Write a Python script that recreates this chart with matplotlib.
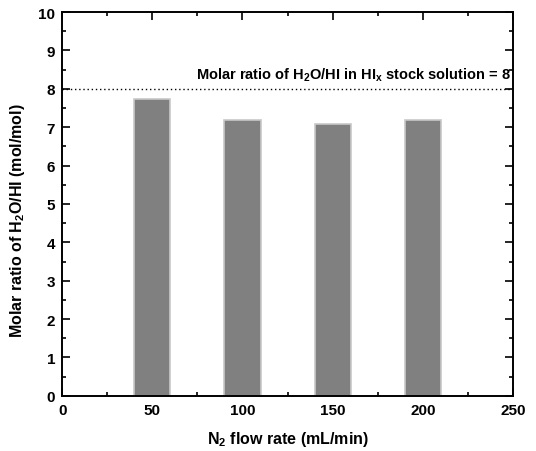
import matplotlib
matplotlib.use('Agg')
import matplotlib.pyplot as plt
from matplotlib.ticker import MultipleLocator

plt.rcParams.update({
    'font.family': ['Liberation Sans', 'DejaVu Sans'],
    'font.weight': 'bold',
    'mathtext.fontset': 'custom',
    'mathtext.rm': 'Liberation Sans:bold',
    'mathtext.it': 'Liberation Sans:bold',
    'mathtext.bf': 'Liberation Sans:bold',
    'mathtext.default': 'rm',
})

# data
flow_rates = [50, 100, 150, 200]
molar_ratio = [7.74, 7.2, 7.09, 7.2]
stock_ratio = 8

fig = plt.figure(figsize=(5.36, 4.52), dpi=100)
ax = fig.add_axes([0.116, 0.122, 0.841, 0.849])

ax.bar(flow_rates, molar_ratio, width=20, color='#808080',
       edgecolor='#c8c8c8', linewidth=1.2, zorder=2)
ax.axhline(stock_ratio, color='black', linestyle=(0, (1, 2)), linewidth=1.0, zorder=3)
ax.text(249, stock_ratio + 0.15,
        r'Molar ratio of H$_2$O/HI in HI$_x$ stock solution = 8',
        ha='right', va='bottom', fontsize=10.5, fontweight='bold')

ax.set_xlim(0, 250)
ax.set_ylim(0, 10)
ax.xaxis.set_major_locator(MultipleLocator(50))
ax.xaxis.set_minor_locator(MultipleLocator(25))
ax.yaxis.set_major_locator(MultipleLocator(1))
ax.yaxis.set_minor_locator(MultipleLocator(0.5))
ax.tick_params(which='both', direction='in', top=True, right=True, width=1.2)
ax.tick_params(which='major', length=6, labelsize=11, pad=5)
ax.tick_params(which='minor', length=3)
ax.tick_params(axis='x', which='both', labeltop=False)
ax.tick_params(axis='y', which='both', labelright=False)
for s in ax.spines.values():
    s.set_linewidth(1.4)

ax.set_xlabel(r'N$_2$ flow rate (mL/min)', fontsize=11.5, fontweight='bold', labelpad=9)
ax.set_ylabel(r'Molar ratio of H$_2$O/HI (mol/mol)', fontsize=11.5, fontweight='bold', labelpad=8)
ax.yaxis.label.set_y(0.458)

fig.savefig('out.png', dpi=100)
